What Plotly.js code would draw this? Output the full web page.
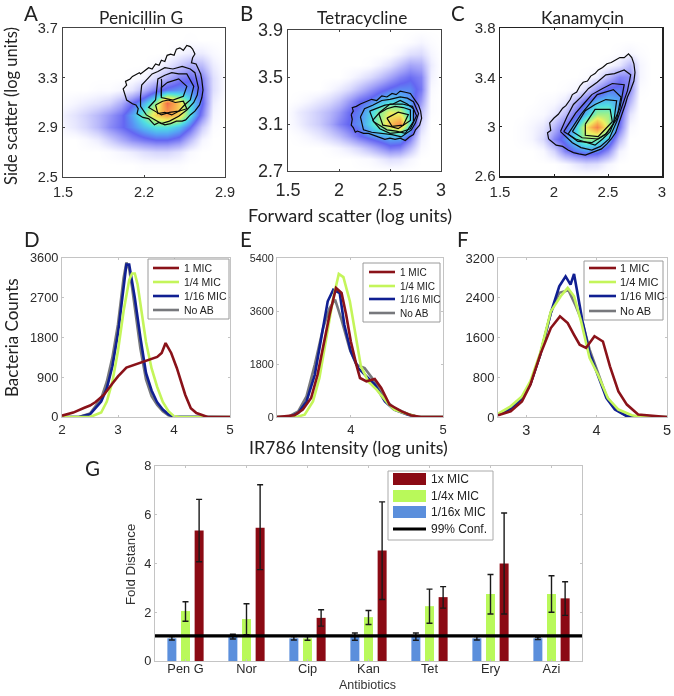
<!DOCTYPE html>
<html><head><meta charset="utf-8">
<script src="https://cdn.plot.ly/plotly-3.0.1.min.js"></script>
<style>html,body{margin:0;padding:0;background:#fff}#c{width:674px;height:696px;filter:blur(0.4px)}</style>
</head><body><div id="c"></div>
<script>
// ---------- density panels ----------
const denAx = [1.5,1.6,1.7,1.8,1.9,2.0,2.1,2.2,2.3,2.4,2.5,2.6,2.7,2.8,2.9];
const denAy = [2.5,2.6,2.7,2.8,2.9,3.0,3.1,3.2,3.3,3.4,3.5,3.6,3.7];
const denA = [
[0,0,0,0,0,0,0,0,0,0,0,0,0,0,0],
[0,0,0,0,0,0,0,.1,.1,.1,.1,0,0,0,0],
[0,0,0,0,.1,.3,.5,.8,1,1,.7,.2,0,0,0],
[0,0,.2,.5,1.1,1.8,2.4,2.8,3.1,3.1,2.7,1.5,.3,0,0],
[.3,.6,1,1.6,2.4,3,3.6,4.4,5,5,4.4,3.2,1.2,.1,0],
[.4,.7,1.1,1.6,2.2,2.9,4,5.6,7.4,8.2,7.4,5,2.6,.3,0],
[.1,.3,.5,.7,1,1.8,3,4.2,6,9.2,7.4,5,3.2,.5,0],
[0,0,0,.1,.1,.3,.7,1.7,2.8,3.5,3.8,3.7,3,.8,.1],
[0,0,0,0,0,0,.1,.3,1,1.8,2.6,3,2.6,.8,.1],
[0,0,0,0,0,0,0,0,.2,.6,1.2,1.8,1.5,.5,.1],
[0,0,0,0,0,0,0,0,0,0,.3,.5,.5,.2,0],
[0,0,0,0,0,0,0,0,0,0,0,.05,0,0,0],
[0,0,0,0,0,0,0,0,0,0,0,0,0,0,0]];
const denBx = [1.5,1.6,1.7,1.8,1.9,2.0,2.1,2.2,2.3,2.4,2.5,2.6,2.7,2.8,2.9,3.0];
const denBy = [2.7,2.8,2.9,3.0,3.1,3.2,3.3,3.4,3.5,3.6,3.7,3.8,3.9];
const denB = [
[0,0,0,0,0,0,0,0,0,0,0,0,0,0,0,0],
[0,0,0,0,0,0,0,.1,.2,.5,.8,.7,.3,0,0,0],
[0,0,0,0,.1,.3,.6,1,1.6,2.2,2.8,2.6,1.5,.2,0,0],
[0,.1,.3,.6,1,1.5,2.2,3,3.6,4,4.4,4.4,3,.5,0,0],
[.1,.4,.8,1.2,1.8,2.6,3.2,3.7,4.8,6,7.6,8.6,5,1,0,0],
[.1,.5,.8,1.2,1.6,2.2,3,3.5,4.6,5.8,6.8,6.5,4.6,1.5,.1,0],
[0,.1,.3,.6,.9,1.4,2.2,3,3.5,4.2,4.8,4.6,3.8,2.2,.1,0],
[0,0,0,0,.2,.5,.9,1.5,2.2,2.8,3.3,3.6,3.6,2.8,.2,0],
[0,0,0,0,0,0,.2,.5,.9,1.4,2,2.6,3,2.6,.4,0],
[0,0,0,0,0,0,0,0,.1,.4,.8,1.4,2,1.8,.5,0],
[0,0,0,0,0,0,0,0,0,0,.1,.4,.8,.9,.3,0],
[0,0,0,0,0,0,0,0,0,0,0,0,.1,.3,.1,0],
[0,0,0,0,0,0,0,0,0,0,0,0,0,0,0,0]];
const denCx = denBx;
const denCy = [2.6,2.7,2.8,2.9,3.0,3.1,3.2,3.3,3.4,3.5,3.6,3.7,3.8];
const denC = [
[0,0,0,0,0,0,0,0,0,0,0,0,0,0,0,0],
[0,0,0,0,0,0,.2,.6,.9,.8,.3,0,0,0,0,0],
[0,0,0,0,.2,1,2.6,3.4,3.8,3.6,2.4,.4,0,0,0,0],
[0,0,.1,.3,.9,2.6,3.6,5,6,5.6,4.4,1.6,0,0,0,0],
[0,0,.1,.3,.6,1.6,3,4.6,7,8.8,6.4,3,.2,0,0,0],
[0,0,0,.1,.2,.6,1.5,3,4.4,6,6,3.6,.7,0,0,0],
[0,0,0,0,.1,.2,.6,1.8,3.2,4.4,4.6,4,1.6,0,0,0],
[0,0,0,0,0,0,.1,.3,1,2.4,3.4,3.5,2.4,.1,0,0],
[0,0,0,0,0,0,0,0,.1,.5,1.6,2.6,2.4,.3,0,0],
[0,0,0,0,0,0,0,0,0,0,.2,.6,1.6,.3,0,0],
[0,0,0,0,0,0,0,0,0,0,0,.1,.3,.1,0,0],
[0,0,0,0,0,0,0,0,0,0,0,0,0,0,0,0],
[0,0,0,0,0,0,0,0,0,0,0,0,0,0,0,0]];
// ---------- contours ----------
const contA = [
 [[2.03,2.02,2.05,2.04,2.08,2.10,2.12,2.16,2.17,2.21,2.24,2.27,2.30,2.33,2.35,2.38,2.40,2.43,2.46,2.48,2.51,2.54,2.57,2.60,2.62,2.64,2.62,2.61,2.65,2.67,2.69,2.70,2.71,2.70,2.68,2.64,2.60,2.56,2.53,2.48,2.43,2.38,2.33,2.29,2.24,2.19,2.14,2.15,2.13,2.10,2.05,2.03],
  [3.18,3.21,3.24,3.27,3.29,3.31,3.32,3.34,3.33,3.36,3.38,3.37,3.41,3.40,3.44,3.43,3.48,3.49,3.48,3.53,3.54,3.52,3.56,3.55,3.53,3.49,3.46,3.42,3.41,3.37,3.33,3.28,3.2,3.14,3.08,3.03,3.0,2.96,2.95,2.95,2.93,2.92,2.94,2.92,2.97,2.98,3.01,3.05,3.08,3.09,3.12,3.18]],
 [[2.17,2.18,2.22,2.27,2.32,2.38,2.45,2.53,2.60,2.64,2.67,2.66,2.63,2.57,2.50,2.42,2.35,2.28,2.22,2.17,2.17],
  [3.15,3.24,3.28,3.33,3.35,3.38,3.37,3.39,3.37,3.34,3.22,3.16,3.10,3.04,2.99,2.95,2.93,2.97,3.00,3.07,3.15]],
 [[2.30,2.32,2.38,2.44,2.50,2.57,2.63,2.60,2.55,2.50,2.42,2.35,2.24,2.30],
  [3.12,3.29,3.32,3.34,3.33,3.33,3.23,3.12,3.08,3.03,3.02,3.00,3.06,3.12]],
 [[2.40,2.50,2.57,2.54,2.45,2.35,2.35,2.40],[3.26,3.29,3.23,3.15,3.12,3.14,3.22,3.26]],
 [[2.30,2.36,2.41,2.47,2.54,2.57,2.50,2.44,2.38,2.32,2.30],[3.08,3.11,3.12,3.10,3.11,3.05,3.03,3.00,3.02,3.01,3.08]],
 [[2.35,2.352,2.348,2.352,2.35],[3.15,3.19,3.23,3.27,3.29]]];
const contB = [
 [[2.12,2.14,2.13,2.17,2.21,2.27,2.32,2.37,2.42,2.47,2.52,2.56,2.60,2.65,2.70,2.74,2.78,2.80,2.81,2.79,2.75,2.73,2.69,2.65,2.60,2.55,2.50,2.45,2.39,2.34,2.29,2.24,2.18,2.16,2.14,2.12,2.13,2.12],
  [3.18,3.21,3.24,3.25,3.27,3.29,3.31,3.30,3.34,3.33,3.36,3.35,3.38,3.37,3.36,3.31,3.26,3.21,3.15,3.09,3.05,3.01,2.99,2.96,2.98,2.97,2.98,2.97,2.99,3.0,3.02,3.02,3.04,3.03,3.07,3.09,3.14,3.18]],
 [[2.21,2.25,2.33,2.42,2.50,2.60,2.67,2.73,2.78,2.75,2.71,2.61,2.52,2.42,2.32,2.24,2.21],[3.16,3.23,3.26,3.30,3.31,3.33,3.32,3.29,3.19,3.11,3.05,2.99,3.01,3.02,3.03,3.05,3.16]],
 [[2.30,2.38,2.45,2.53,2.60,2.67,2.73,2.73,2.65,2.56,2.47,2.34,2.30],[3.21,3.24,3.26,3.27,3.30,3.27,3.23,3.12,3.02,3.04,3.05,3.12,3.21]],
 [[2.39,2.47,2.55,2.63,2.70,2.70,2.58,2.50,2.43,2.39],[3.19,3.23,3.25,3.24,3.22,3.13,3.06,3.08,3.09,3.19]],
 [[2.47,2.58,2.68,2.63,2.52,2.47],[3.15,3.20,3.18,3.09,3.08,3.15]],
 [[2.33,2.40,2.50,2.62,2.72,2.76,2.70,2.60,2.50,2.40,2.33],[3.13,3.20,3.27,3.27,3.25,3.17,3.06,3.03,3.02,3.06,3.13]]];
const contC = [
 [[1.95,1.94,1.97,1.96,2.00,2.04,2.08,2.11,2.15,2.17,2.21,2.24,2.27,2.31,2.34,2.38,2.41,2.45,2.49,2.53,2.57,2.61,2.65,2.69,2.72,2.74,2.75,2.74,2.71,2.68,2.66,2.63,2.60,2.57,2.53,2.49,2.44,2.38,2.33,2.29,2.23,2.18,2.13,2.08,2.02,1.98,1.95],
  [2.90,2.95,2.97,3.03,3.07,3.10,3.15,3.17,3.22,3.26,3.28,3.33,3.36,3.37,3.41,3.43,3.46,3.48,3.51,3.52,3.54,3.56,3.56,3.59,3.56,3.51,3.44,3.37,3.30,3.24,3.18,3.10,3.03,2.95,2.9,2.86,2.82,2.80,2.78,2.77,2.78,2.79,2.81,2.84,2.85,2.88,2.90]],
 [[2.06,2.12,2.18,2.25,2.32,2.40,2.48,2.56,2.65,2.71,2.68,2.63,2.58,2.51,2.43,2.35,2.25,2.17,2.06],[2.96,3.08,3.18,3.24,3.31,3.36,3.42,3.43,3.46,3.42,3.29,3.17,3.04,2.90,2.84,2.81,2.83,2.87,2.96]],
 [[2.09,2.20,2.28,2.35,2.45,2.54,2.65,2.61,2.56,2.52,2.45,2.38,2.20,2.09],[2.96,3.11,3.19,3.26,3.31,3.35,3.34,3.15,3.05,2.96,2.90,2.85,2.90,2.96]],
 [[2.17,2.23,2.29,2.38,2.48,2.58,2.55,2.48,2.41,2.26,2.17],[2.96,3.05,3.13,3.18,3.22,3.21,3.02,2.94,2.90,2.91,2.96]],
 [[2.29,2.38,2.52,2.54,2.41,2.29,2.29],[3.02,3.14,3.14,3.04,2.92,2.93,3.02]],
 [[2.13,2.25,2.40,2.55,2.62,2.58,2.48,2.35,2.22,2.13],[2.94,3.10,3.26,3.30,3.24,3.06,2.94,2.87,2.88,2.94]]];
// ---------- histograms ----------
const dRedX=[2,2.2,2.4,2.5,2.6,2.75,2.9,3,3.15,3.3,3.5,3.7,3.78,3.85,3.95,4.05,4.2,4.3,4.4,4.5,4.6,5];
const dRedY=[30,100,210,260,340,505,760,920,1120,1185,1260,1360,1450,1675,1450,1110,505,200,90,40,0,0];
const dGreenX=[2,2.5,2.7,2.8,2.9,3,3.1,3.2,3.25,3.3,3.35,3.4,3.5,3.6,3.7,3.8,3.9,4,4.1,5];
const dGreenY=[0,0,100,350,800,1500,2400,3100,3250,3250,3000,2600,1700,1100,680,340,130,20,0,0];
const dBlueX=[2,2.3,2.5,2.7,2.8,2.9,3,3.1,3.15,3.2,3.25,3.3,3.4,3.5,3.6,3.7,3.8,3.9,4,5];
const dBlueY=[0,0,60,350,650,1150,1900,3000,3450,3450,3100,2700,1800,1000,600,330,170,60,10,0];
const dGrayX=[2,2.3,2.5,2.7,2.8,2.9,3,3.1,3.15,3.2,3.25,3.3,3.4,3.5,3.6,3.7,3.8,3.9,4];
const dGrayY=[0,0,80,420,800,1350,2100,3150,3500,3350,2950,2500,1550,850,470,270,130,40,0];

const eRedX=[3.2,3.39,3.48,3.57,3.64,3.72,3.77,3.84,3.90,3.95,4.0,4.06,4.10,4.17,4.26,4.33,4.42,4.55,4.65,4.76,5];
const eRedY=[0,57,250,645,1440,2680,3475,4380,4210,3475,2570,1780,1325,1210,1290,985,420,190,57,0,0];
const eGreenX=[3.2,3.41,3.5,3.59,3.66,3.75,3.81,3.87,3.92,3.99,4.06,4.11,4.19,4.28,4.40,4.47,4.58,4.73,5];
const eGreenY=[0,0,80,530,1325,3020,4040,4860,4750,3930,2680,1720,1210,930,475,250,135,0,0];
const eBlueX=[3.2,3.34,3.43,3.52,3.61,3.7,3.75,3.81,3.88,3.93,4.0,4.08,4.15,4.26,4.37,4.47,4.62,4.73,5];
const eBlueY=[0,0,135,530,1440,2970,3930,4320,4210,3135,2230,1660,1440,1100,530,250,80,0,0];
const eGrayX=[3.2,3.32,3.43,3.52,3.61,3.7,3.77,3.83,3.9,3.99,4.06,4.15,4.26,4.37,4.47,4.62,4.73,5];
const eGrayY=[0,0,190,700,1780,3020,3700,3985,3300,2290,1780,1660,1210,590,305,100,0,0];

const fRedX=[2.6,2.78,2.94,3.06,3.2,3.35,3.48,3.54,3.59,3.68,3.76,3.85,3.97,4.09,4.19,4.31,4.43,4.59,4.83,5];
const fRedY=[35,115,315,650,1255,1790,2025,1950,1890,1655,1455,1390,1625,1520,1020,515,250,50,15,0];
const fGreenX=[2.6,2.78,2.94,3.06,3.2,3.35,3.49,3.59,3.68,3.78,3.9,4.02,4.16,4.31,4.5,4.64,5];
const fGreenY=[65,215,415,720,1290,2125,2430,2600,2430,1925,1190,850,380,150,35,0,0];
const fBlueX=[2.6,2.78,2.94,3.06,3.2,3.35,3.47,3.56,3.63,3.68,3.72,3.8,3.9,4.02,4.14,4.26,4.43,4.55,5];
const fBlueY=[45,170,380,665,1255,2095,2630,2830,2665,2880,2560,1925,1290,850,380,150,15,0,0];
const fGrayX=[2.6,2.78,2.94,3.06,3.2,3.35,3.47,3.6,3.7,3.8,3.9,4.02,4.14,4.26,4.43,4.55];
const fGrayY=[45,170,380,665,1255,2095,2500,2550,2250,1900,1360,900,420,170,20,0];
// ---------- bars ----------
const antibiotics=["Pen G","Nor","Cip","Kan","Tet","Ery","Azi"];
const mic16=[.93,1.0,.93,1.0,1.0,.93,.93];
const mic16Up=[.07,.1,.07,.15,.15,.07,.05];
const mic16Dn=[.07,.1,.07,.15,.15,.07,.05];
const mic4=[2.05,1.72,.93,1.8,2.25,2.75,2.75];
const mic4Up=[.38,.63,.07,.27,.7,.8,.75];
const mic4Dn=[.42,.64,.08,.3,.7,.82,.75];
const mic1=[5.35,5.47,1.77,4.53,2.62,4.0,2.57];
const mic1Up=[1.28,1.76,.33,2.0,.43,2.07,.68];
const mic1Dn=[1.28,1.72,.34,2.01,.45,2.07,.7];
const confX=[0.5,7.5];
const confY=[1.03,1.03];
// ---------- labels ----------
const histNames=["1 MIC","1/4 MIC","1/16 MIC","No AB"];
const barNames=["1x MIC","1/4x MIC","1/16x MIC","99% Conf."];

const RED="#8a1219",GREEN="#c4f55a",BLUE="#101f92",GRAY="#77787c";
const BRED="#8b0a14",BGREEN="#b9f95a",BBLUE="#5b8fdc";
const W=674,H=696;
const px=x=>x/W, py=y=>1-y/H;
const HELV="Liberation Sans, Arial, sans-serif", CAL="Lato, sans-serif";

const scale=[[0,"#ffffff"],[.03,"#f6f6ff"],[.1,"#d8d8fd"],[.22,"#a0a0f8"],[.33,"#6466f2"],[.42,"#55a4f4"],[.52,"#4fe0e2"],[.62,"#96f090"],[.72,"#eef060"],[.84,"#f8ac4c"],[1,"#f0604a"]];

const layout={width:W,height:H,margin:{l:0,r:0,t:0,b:0},paper_bgcolor:"#fff",plot_bgcolor:"#fff",showlegend:false,
 barmode:"group",bargap:.33,bargroupgap:.34,shapes:[],annotations:[]};
const data=[];

function axes(n,box,xr,yr,xt,yt,o){
 const s=n===1?"":n;
 layout["xaxis"+s]=Object.assign({domain:[px(box[0]),px(box[1])],range:xr,anchor:"y"+s,tickvals:xt,ticktext:xt.map(String),
   showgrid:false,zeroline:false,showline:true,mirror:"allticks",linecolor:o.line,linewidth:o.lw,ticks:"inside",ticklen:2,tickcolor:o.line,
   tickfont:{family:HELV,size:o.xfs||o.fs,color:"#2a2a2a"},ticklabelstandoff:o.xst||0},o.xa||{});
 layout["yaxis"+s]=Object.assign({domain:[py(box[3]),py(box[2])],range:yr,anchor:"x"+s,tickvals:yt,ticktext:yt.map(String),
   showgrid:false,zeroline:false,showline:true,mirror:"allticks",linecolor:o.line,linewidth:o.lw,ticks:"inside",ticklen:2,tickcolor:o.line,
   tickfont:{family:HELV,size:o.fs,color:"#2a2a2a"},ticklabelstandoff:o.yst||0},o.ya||{});
}
function density(n,x,y,z,conts){
 const s=n===1?"":n;
 data.push({type:"heatmap",x,y,z,xaxis:"x"+s,yaxis:"y"+s,zmin:0,zmax:9.5,zsmooth:"best",colorscale:scale,showscale:false});
 conts.forEach(c=>data.push({type:"scatter",mode:"lines",x:c[0],y:c[1],xaxis:"x"+s,yaxis:"y"+s,line:{color:"#0a0a0a",width:1.2}}));
}
function hist(n,s4){
 const s=n===1?"":n;
 [[s4[6],s4[7],GRAY,histNames[3]],[s4[4],s4[5],BLUE,histNames[2]],[s4[2],s4[3],GREEN,histNames[1]],[s4[0],s4[1],RED,histNames[0]]].forEach(a=>
  data.push({type:"scatter",mode:"lines",name:a[3],x:a[0],y:a[1],xaxis:"x"+s,yaxis:"y"+s,line:{color:a[2],width:2.6}}));
}
function note(text,x,y,size,o){
 layout.annotations.push(Object.assign({xref:"paper",yref:"paper",x:px(x),y:py(y),text,showarrow:false,font:{family:CAL,size,color:"#222"},xanchor:"center",yanchor:"middle"},o||{}));
}
function legendBox(b,sx,rows,tx,fs){
 layout.shapes.push({type:"rect",xref:"paper",yref:"paper",x0:px(b[0]),x1:px(b[1]),y0:py(b[2]),y1:py(b[3]),line:{color:"#9a9a9a",width:1},fillcolor:"#fff",layer:"above"});
 [RED,GREEN,BLUE,GRAY].forEach((c,i)=>{
  layout.shapes.push({type:"line",xref:"paper",yref:"paper",x0:px(sx[0]),x1:px(sx[1]),y0:py(rows[i]),y1:py(rows[i]),line:{color:c,width:2.6},layer:"above"});
  note(histNames[i],tx,rows[i],fs,{xanchor:"left",font:{family:HELV,size:fs,color:"#222"}});
 });
}
const dark={line:"#444",lw:1.3,fs:14.5};
axes(1,[63,225,28,177],[1.5,2.9],[2.5,3.7],[1.5,2.2,2.9],[2.5,2.9,3.3,3.7],Object.assign({},dark,{xst:1,yst:1}));
axes(2,[288,441,30,171],[1.5,3],[2.7,3.9],[1.5,2,2.5,3],[2.7,3.1,3.5,3.9],Object.assign({},dark,{fs:18,xst:2}));
axes(3,[500,662,28,176],[1.5,3],[2.6,3.8],[1.5,2,2.5,3],[2.6,3,3.4,3.8],Object.assign({},dark,{line:"#222",lw:1.5,fs:15,xst:1}));
const light={line:"#c4c4c4",lw:1,fs:12.8};
axes(4,[62,230,258,417],[2,5],[0,3600],[2,3,4,5],[0,900,1800,2700,3600],Object.assign({},light,{xfs:13.5}));
axes(5,[277,443,258,417],[3.2,5],[0,5400],[4,5],[0,1800,3600,5400],Object.assign({},light,{fs:10.8,xfs:13}));
axes(6,[498,667,258,417],[2.6,5],[0,3200],[3,4,5],[0,800,1600,2400,3200],Object.assign({},light,{fs:13,xfs:14.5}));
axes(7,[155,582,466,661],[.5,7.5],[0,8],[1,2,3,4,5,6,7],[0,2,4,6,8],Object.assign({},light,{fs:12.8,xst:-4,xa:{ticktext:antibiotics}}));

density(1,denAx,denAy,denA,contA);
density(2,denBx,denBy,denB,contB);
density(3,denCx,denCy,denC,contC);
hist(4,[dRedX,dRedY,dGreenX,dGreenY,dBlueX,dBlueY,dGrayX,dGrayY]);
hist(5,[eRedX,eRedY,eGreenX,eGreenY,eBlueX,eBlueY,eGrayX,eGrayY]);
hist(6,[fRedX,fRedY,fGreenX,fGreenY,fBlueX,fBlueY,fGrayX,fGrayY]);

const cats=[1,2,3,4,5,6,7];
[[mic16,mic16Up,mic16Dn,BBLUE,barNames[2]],[mic4,mic4Up,mic4Dn,BGREEN,barNames[1]],[mic1,mic1Up,mic1Dn,BRED,barNames[0]]].forEach(a=>
 data.push({type:"bar",name:a[4],x:cats,y:a[0],xaxis:"x7",yaxis:"y7",marker:{color:a[3],line:{width:0}},
  error_y:{type:"data",symmetric:false,array:a[1],arrayminus:a[2],color:"#1a1a1a",thickness:1.4,width:3}}));
data.push({type:"scatter",mode:"lines",name:barNames[3],x:confX,y:confY,xaxis:"x7",yaxis:"y7",line:{color:"#000",width:3.2}});

// text
[["A",31,13],["B",246,13],["C",458,13],["D",32,239],["E",246,239],["F",463,239],["G",92,468]].forEach(l=>note(l[0],l[1],l[2],20.5));
note("Penicillin G",141,17,17.3);
note("Tetracycline",362,17,17.3);
note("Kanamycin",582,17,17.3);
note("Side scatter (log units)",11,106,16.5,{textangle:-90});
note("Forward scatter (log units)",350,215,18);
note("Bacteria Counts",11,338,17,{textangle:-90});
note("IR786 Intensity (log units)",349,447,17.8);
note("Fold Distance",130,565,13.3,{textangle:-90,font:{family:HELV,size:13.3,color:"#333"}});
note("Antibiotics",367,685,12.5,{font:{family:HELV,size:12.5,color:"#333"}});

legendBox([148,229,259,319],[153,179],[268,282,296,310],182,10.5);
legendBox([363,440,263,322],[369,395],[272,286,299,313],398,10);
legendBox([584,663,261,320],[589,616],[268,282,296,311],618,11);

// bar legend
layout.shapes.push({type:"rect",xref:"paper",yref:"paper",x0:px(388),x1:px(493),y0:py(471),y1:py(540),line:{color:"#aaa",width:1},fillcolor:"#fff",layer:"above"});
[[BRED,479],[BGREEN,496],[BBLUE,512]].forEach(a=>layout.shapes.push({type:"rect",xref:"paper",yref:"paper",x0:px(393),x1:px(426),y0:py(a[1]-6),y1:py(a[1]+6),line:{width:0},fillcolor:a[0],layer:"above"}));
layout.shapes.push({type:"line",xref:"paper",yref:"paper",x0:px(393),x1:px(426),y0:py(529),y1:py(529),line:{color:"#000",width:3},layer:"above"});
[479,496,512,529].forEach((y,i)=>note(barNames[i],429,y,12,{xanchor:"left",font:{family:HELV,size:12,color:"#222"}}));

Plotly.newPlot("c",data,layout,{staticPlot:true,displayModeBar:false});
</script></body></html>
